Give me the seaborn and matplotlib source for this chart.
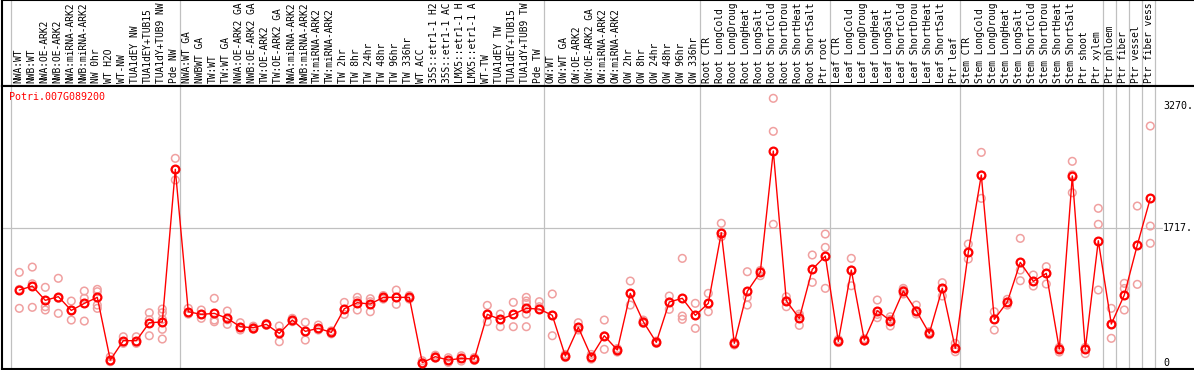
import pandas as pd
import matplotlib
matplotlib.use("Agg")
import matplotlib.pyplot as plt
import seaborn as sns

gene = "Potri.007G089200"

labels = [
    "NWA:WT", "NWB:WT", "NWA:OE-ARK2", "NWB:OE-ARK2", "NWA:miRNA-ARK2", "NWB:miRNA-ARK2",
    "NW 0hr", "WT H2O", "WT-NW", "TUA1dEY NW", "TUA1dEY+TUB15 NW", "TUA1dY+TUB9 NW", "Pde NW",
    "NWA:WT GA", "NWBWT GA", "TW:WT", "TW:WT GA", "NWA:OE-ARK2 GA", "NWB:OE-ARK2 GA",
    "TW:OE-ARK2", "TW:OE-ARK2 GA", "NWA:miRNA-ARK2 GA", "NWB:miRNA-ARK2 GA", "TW:miRNA-ARK2",
    "TW:miRNA-ARK2 GA", "TW 2hr", "TW 8hr", "TW 24hr", "TW 48hr", "TW 96hr", "TW 336hr",
    "WT ACC", "35S::etr1-1 H2O", "35S::etr1-1 ACC", "LMX5::etr1-1 H2O", "LMX5::etr1-1 ACC",
    "WT-TW", "TUA1dEY TW", "TUA1dEY+TUB15 TW", "TUA1dY+TUB9 TW", "Pde TW",
    "OW:WT", "OW:WT GA", "OW:OE-ARK2", "OW:OE-ARK2 GA", "OW:miRNA-ARK2", "OW:miRNA-ARK2 GA",
    "OW 2hr", "OW 8hr", "OW 24hr", "OW 48hr", "OW 96hr", "OW 336hr",
    "Root CTR", "Root LongCold", "Root LongDrought", "Root LongHeat", "Root LongSalt",
    "Root ShortCold", "Root ShortDrought", "Root ShortHeat", "Root ShortSalt", "Ptr root",
    "Leaf CTR", "Leaf LongCold", "Leaf LongDrought", "Leaf LongHeat", "Leaf LongSalt",
    "Leaf ShortCold", "Leaf ShortDrought", "Leaf ShortHeat", "Leaf ShortSalt", "Ptr leaf",
    "Stem CTR", "Stem LongCold", "Stem LongDrought", "Stem LongHeat", "Stem LongSalt",
    "Stem ShortCold", "Stem ShortDrought", "Stem ShortHeat", "Stem ShortSalt", "Ptr shoot",
    "Ptr xylem", "Ptr phloem", "Ptr fiber", "Ptr vessel", "Ptr fiber vessel",
]
label_width = 14  # the strip shows at most 14 characters of each name

means = [
    930, 981, 799, 846, 671, 760, 837, 38, 285, 285, 514, 523, 2469,
    654, 620, 633, 569, 463, 450, 493, 378, 548, 404, 442, 391, 692, 769, 752,
    837, 837, 837, 5, 81, 38, 59, 51, 620, 557, 620, 697, 688,
    608, 89, 455, 81, 348, 166, 888, 527, 264, 778, 825, 608,
    761, 1661, 251, 914, 1156, 2702, 794, 569, 1194, 1364,
    276, 1185, 293, 667, 539, 918, 667, 378, 952, 187,
    1411, 2396, 557, 778, 1283, 1041, 1143, 178, 2384, 178, 1559,
    497, 867, 1504, 2099,
]

replicates = [
    [1156, 939, 697], [1223, 1010, 710], [965, 718, 676], [1080, 825, 633],
    [790, 675, 548], [918, 825, 535], [939, 909, 739, 697], [80, 20, 17],
    [335, 270, 251], [335, 270, 251], [641, 553, 348], [688, 641, 557, 430, 306],
    [2609, 2465, 2333],
    [697, 640, 624], [676, 620, 570], [825, 548, 526], [663, 551, 493],
    [514, 454, 421], [470, 450, 430], [505, 493, 480], [472, 390, 272],
    [570, 548, 527], [519, 400, 293], [484, 442, 421], [410, 391, 372],
    [773, 683, 620], [837, 794, 676], [820, 782, 654], [860, 837, 815],
    [930, 833, 748], [860, 837, 815], [29, 0, 0], [100, 81, 62], [68, 38, 8],
    [93, 59, 25], [70, 51, 32], [735, 620, 527], [624, 557, 463], [773, 620, 463],
    [837, 790, 760, 624, 463], [782, 718, 688],
    [880, 608, 348], [110, 89, 70], [514, 455, 421], [110, 81, 50],
    [548, 348, 175], [185, 166, 140], [1045, 888, 739], [548, 527, 505],
    [280, 264, 250], [854, 778, 684], [1334, 599, 557], [761, 608, 442],
    [888, 761, 654], [1781, 1661, 1610], [270, 251, 230], [1164, 837, 739],
    [1180, 1113], [3374, 2953, 1768], [845, 794, 718], [624, 600, 480],
    [1377, 1194, 1028], [1644, 1474, 952],
    [300, 276, 260], [1334, 1185, 985], [310, 293, 280], [803, 620, 578],
    [590, 555, 472], [952, 930, 880], [739, 667, 624], [400, 378, 360],
    [1024, 952, 854], [251, 187, 144],
    [1517, 1411, 1326], [2685, 2396, 2099], [654, 557, 421], [812, 778, 739],
    [1589, 1185, 1049], [1122, 1041, 981], [1228, 1143, 1007], [200, 178, 140],
    [2571, 2400, 2171], [200, 178, 120], [1972, 1768, 931],
    [697, 497, 315], [1016, 950, 676], [2001, 1504, 1003], [3021, 1746, 1526],
]

# last column of each sample group
group_ends = [12, 40, 52, 62, 72, 83, 84, 85, 86, 87]
axis_marks = ["3270.", "1717.", "0"]
axis_values = [3270, 1717, 0]

mean_df = pd.DataFrame({"pos": range(len(means)), "value": means})
rep_df = pd.DataFrame(
    [(i, v) for i, reps in enumerate(replicates) for v in reps],
    columns=["pos", "value"],
)

sns.set_style("white")
plt.rcParams["font.family"] = ["DejaVu Sans Mono"]
mono = 7.2

W, H = 1194, 370
fig = plt.figure(figsize=(W / 100, H / 100), dpi=100)
xlim = (-17.3 / 13, (W - 19.3) / 13)

# sample label strip
lax = fig.add_axes([2 / W, (H - 86) / H, (W - 2) / W, 86 / H])
lax.set_xlim(*xlim)
lax.set_ylim(0, 1)
lax.set_xticks([])
lax.set_yticks([])
for side in ["top", "left", "bottom"]:
    lax.spines[side].set_color("black")
    lax.spines[side].set_linewidth(1.5)
lax.spines["right"].set_visible(False)
for i, lab in enumerate(labels):
    lax.text(i - 0.1, 0.035, lab[:label_width].rstrip(), rotation=90, ha="center",
             va="bottom", fontsize=6.9, color="black", clip_on=True)

# expression plot
ax = fig.add_axes([2 / W, 1 / H, (W - 2) / W, 283 / H])
sns.scatterplot(data=rep_df, x="pos", y="value", ax=ax, marker="o", s=30,
                facecolor="none", edgecolor="#f0a0a0", linewidth=1.1, zorder=3)
sns.lineplot(data=mean_df, x="pos", y="value", ax=ax, color="red", linewidth=1,
             marker="o", markersize=5.6, markerfacecolor="none",
             markeredgecolor="red", markeredgewidth=1.6, zorder=4)
ax.set_xlim(*xlim)
ax.set_ylim(-76, 3531)
ax.set_xlabel("")
ax.set_ylabel("")
ax.set_xticks([])
ax.set_yticks([])
for side in ["top", "left", "bottom"]:
    ax.spines[side].set_color("black")
    ax.spines[side].set_linewidth(1.5)
ax.spines["right"].set_visible(False)

ax.axhline(1717, xmin=0, xmax=(1162 - 2) / (W - 2), color="#c0c0c0", lw=0.9, zorder=1)
for b in [-1] + group_ends:
    for a in (ax, lax):
        a.axvline(b + 0.36, color="#c0c0c0", lw=0.9, zorder=1)

for txt, v in zip(axis_marks, axis_values):
    ax.text((1163 - 19.3) / 13, v, txt, ha="left", va="center",
            fontsize=mono, color="black", clip_on=False)

ax.text(-0.79, 3391, gene, ha="left", va="center", fontsize=mono, color="red")

fig.savefig("out.png", dpi=100)
